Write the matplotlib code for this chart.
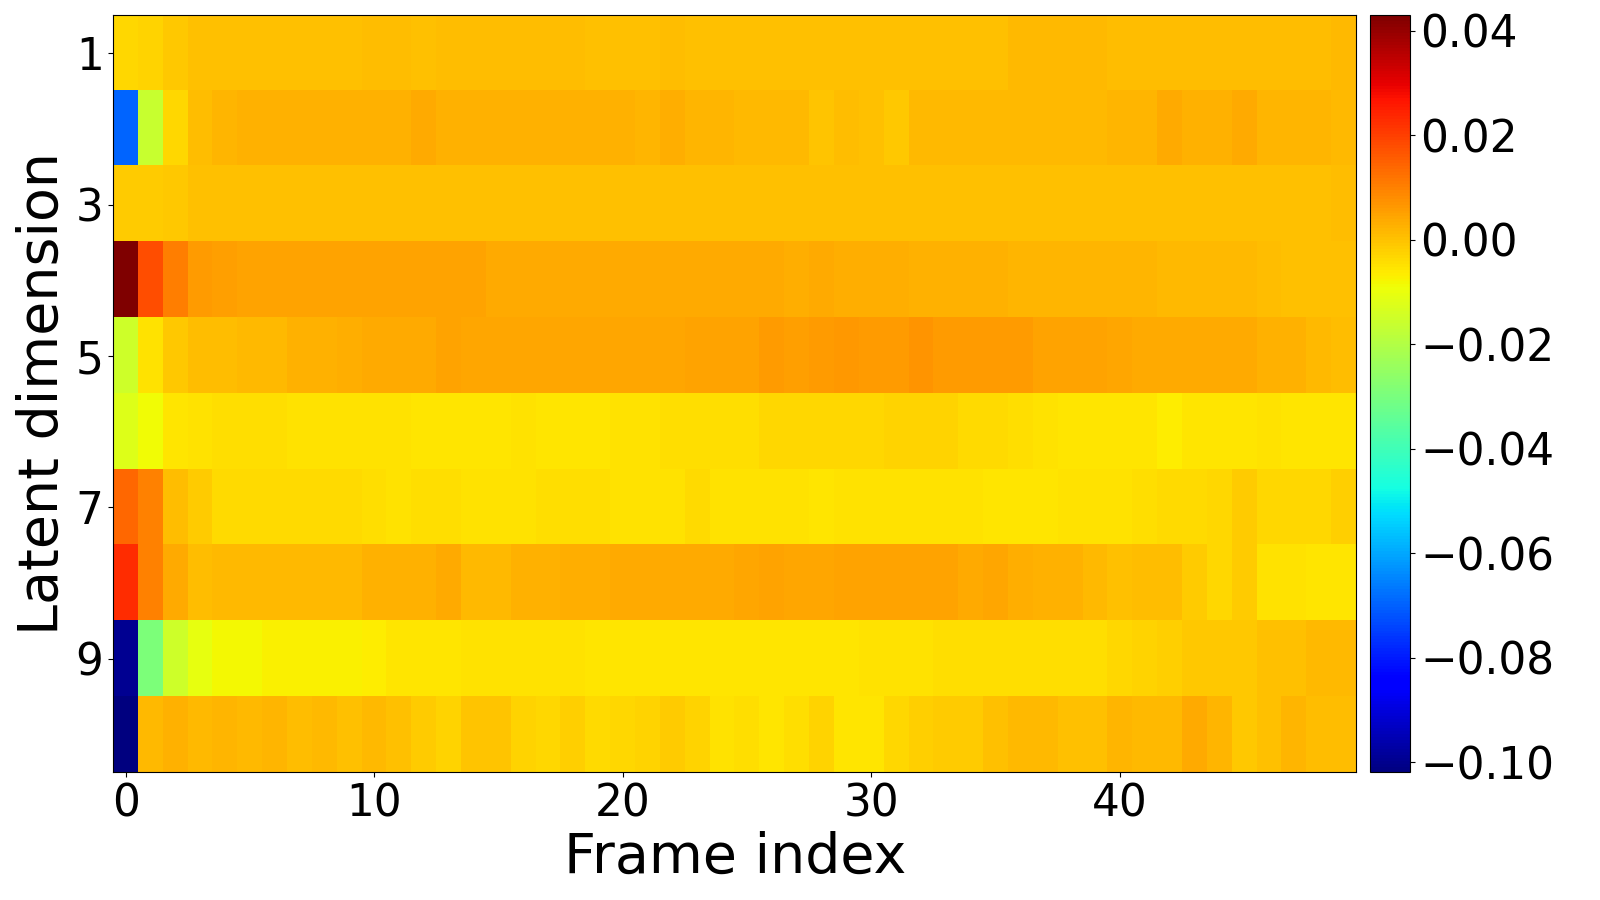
import numpy as np
import matplotlib
matplotlib.use("Agg")
import matplotlib.pyplot as plt

# latent values per dimension (rows) and frame (columns)
dim1 = [-0.0031, -0.0026, -0.0007, 0.0, 0.0005, 0.0005, 0.0005, 0.0005, 0.0005, 0.0,
        0.0008, 0.0008, 0.0, 0.0008, 0.0008, 0.0008, 0.0008, 0.0008, 0.0008, 0.0,
        0.0005, 0.0005, 0.0008, 0.0005, 0.0005, 0.0005, 0.0005, 0.0005, 0.0005, 0.0005,
        0.0005, 0.0005, 0.0005, 0.0005, 0.0005, 0.0005, 0.0011, 0.0011, 0.0011, 0.0011,
        0.0008, 0.0008, 0.0008, 0.0008, 0.0008, 0.0008, 0.0008, 0.0008, 0.0008, 0.0011]
dim2 = [-0.0697, -0.016, -0.0031, 0.0008, 0.002, 0.0026, 0.0026, 0.0026, 0.0026, 0.0026,
        0.0026, 0.0026, 0.0035, 0.0026, 0.0026, 0.0026, 0.0026, 0.0026, 0.0026, 0.0023,
        0.0026, 0.002, 0.0031, 0.002, 0.002, 0.0011, 0.0011, 0.0011, -0.0004, 0.0008,
        0.0, -0.0007, 0.0011, 0.0011, 0.0016, 0.0016, 0.0016, 0.0016, 0.0016, 0.0016,
        0.002, 0.002, 0.0035, 0.0026, 0.0026, 0.0035, 0.002, 0.002, 0.002, 0.0016]
dim3 = [-0.0015, -0.0015, -0.0007, 0.0, 0.0, 0.0, 0.0, 0.0, 0.0, 0.0,
        0.0, 0.0, 0.0, 0.0, 0.0, 0.0, 0.0, 0.0, 0.0, 0.0,
        0.0, 0.0, 0.0, 0.0, 0.0, 0.0, 0.0, 0.0, 0.0, 0.0,
        0.0, 0.0, 0.0, 0.0, 0.0, 0.0, 0.0, 0.0, 0.0, 0.0,
        0.0, 0.0, 0.0, 0.0, 0.0, 0.0, 0.0, 0.0, 0.0, 0.0008]
dim4 = [0.043, 0.0177, 0.0103, 0.0061, 0.0054, 0.0046, 0.0046, 0.0049, 0.0049, 0.0049,
        0.005, 0.005, 0.0046, 0.0046, 0.0046, 0.0038, 0.0038, 0.0038, 0.0038, 0.0038,
        0.0038, 0.0038, 0.0035, 0.0035, 0.0035, 0.0035, 0.0035, 0.0031, 0.0035, 0.0031,
        0.0031, 0.0031, 0.0026, 0.0026, 0.0026, 0.0026, 0.002, 0.002, 0.002, 0.002,
        0.002, 0.002, 0.0016, 0.0016, 0.0016, 0.0016, 0.0008, 0.0, 0.0, 0.0005]
dim5 = [-0.015, -0.0046, -0.0007, 0.0008, 0.0008, 0.0016, 0.0016, 0.0023, 0.0023, 0.0031,
        0.0035, 0.0035, 0.0038, 0.0046, 0.0041, 0.0041, 0.0041, 0.0041, 0.0041, 0.0041,
        0.0041, 0.0041, 0.0041, 0.0046, 0.0046, 0.0046, 0.0057, 0.0054, 0.0057, 0.0066,
        0.0061, 0.0061, 0.0069, 0.0061, 0.0061, 0.0057, 0.0057, 0.005, 0.0046, 0.0046,
        0.0041, 0.0035, 0.0035, 0.0035, 0.0035, 0.0035, 0.0023, 0.0023, 0.0016, 0.0008]
dim6 = [-0.0125, -0.0088, -0.0057, -0.0046, -0.0041, -0.0041, -0.0041, -0.005, -0.005, -0.005,
        -0.005, -0.005, -0.0057, -0.0057, -0.0057, -0.0057, -0.005, -0.0057, -0.0057, -0.0054,
        -0.0046, -0.0046, -0.0041, -0.0041, -0.0041, -0.0041, -0.0031, -0.0031, -0.0031, -0.0031,
        -0.0031, -0.0026, -0.0026, -0.0026, -0.0035, -0.0035, -0.0041, -0.005, -0.0057, -0.0057,
        -0.0057, -0.0057, -0.0066, -0.0057, -0.0057, -0.0057, -0.005, -0.0057, -0.0054, -0.0054]
dim7 = [0.0138, 0.010, 0.0008, -0.0015, -0.0035, -0.0035, -0.0035, -0.0035, -0.0035, -0.0035,
        -0.0041, -0.0046, -0.0041, -0.0041, -0.005, -0.005, -0.005, -0.0041, -0.0041, -0.0041,
        -0.0046, -0.0046, -0.0046, -0.0035, -0.0046, -0.0046, -0.0046, -0.0046, -0.0054, -0.0046,
        -0.0046, -0.005, -0.0046, -0.005, -0.0046, -0.0054, -0.0054, -0.0054, -0.0046, -0.0046,
        -0.0046, -0.0041, -0.0035, -0.0035, -0.0031, -0.0015, -0.0031, -0.0031, -0.0031, -0.002]
dim8 = [0.0231, 0.010, 0.0038, 0.0008, 0.0011, 0.0011, 0.0011, 0.0016, 0.0016, 0.0016,
        0.0023, 0.0023, 0.0023, 0.0035, 0.0016, 0.0016, 0.0023, 0.0023, 0.0031, 0.0031,
        0.0035, 0.0035, 0.0035, 0.0038, 0.0038, 0.0041, 0.005, 0.0041, 0.0041, 0.005,
        0.005, 0.005, 0.005, 0.005, 0.0038, 0.0041, 0.0031, 0.0023, 0.0023, 0.0016,
        0.0, 0.0008, 0.0008, -0.0015, -0.0031, -0.0015, -0.0046, -0.005, -0.0057, -0.0054]
dim9 = [-0.0995, -0.0292, -0.015, -0.0106, -0.008, -0.008, -0.0072, -0.0072, -0.0072, -0.0069,
        -0.0066, -0.0057, -0.0054, -0.0054, -0.005, -0.005, -0.005, -0.005, -0.005, -0.0057,
        -0.0054, -0.0054, -0.0054, -0.0054, -0.0054, -0.0057, -0.0054, -0.0057, -0.0057, -0.0054,
        -0.005, -0.0046, -0.0046, -0.0041, -0.0041, -0.0041, -0.0041, -0.0041, -0.0041, -0.0041,
        -0.0031, -0.0026, -0.002, -0.0007, -0.0007, -0.0007, 0.0, 0.0, 0.0016, 0.0011]
dim10 = [-0.102, 0.0011, 0.0023, 0.0011, 0.002, 0.0011, 0.002, 0.0008, 0.0011, 0.0005,
         0.0011, 0.0, -0.0015, -0.0026, -0.0004, -0.0004, -0.0026, -0.0031, -0.0023, -0.0035,
         -0.0031, -0.0026, -0.0015, -0.0026, -0.005, -0.0041, -0.0054, -0.0041, -0.0026, -0.0054,
         -0.0054, -0.0031, -0.0023, -0.0015, -0.0015, 0.0, 0.0016, 0.0016, 0.0, 0.0005,
         0.002, 0.0011, 0.0011, 0.0038, 0.002, -0.0007, 0.0005, 0.002, 0.0008, 0.0008]

data = np.array([dim1, dim2, dim3, dim4, dim5, dim6, dim7, dim8, dim9, dim10])

fig = plt.figure(figsize=(16, 9), dpi=100)
ax = fig.add_axes([0.0708, 0.1417, 0.7768, 0.8413])
cax = fig.add_axes([0.856, 0.1417, 0.0255, 0.8413])

im = ax.imshow(data, cmap="jet", aspect="auto", interpolation="nearest")
cb = fig.colorbar(im, cax=cax)
cb.ax.tick_params(labelsize=31.5)

ax.set_xticks([0, 10, 20, 30, 40])
ax.set_yticks([0, 2, 4, 6, 8])
ax.set_yticklabels(["1", "3", "5", "7", "9"])
ax.tick_params(labelsize=31.5)
ax.set_xlabel("Frame index", fontsize=40)
ax.set_ylabel("Latent dimension", fontsize=40)

fig.savefig("out.png", dpi=100)
